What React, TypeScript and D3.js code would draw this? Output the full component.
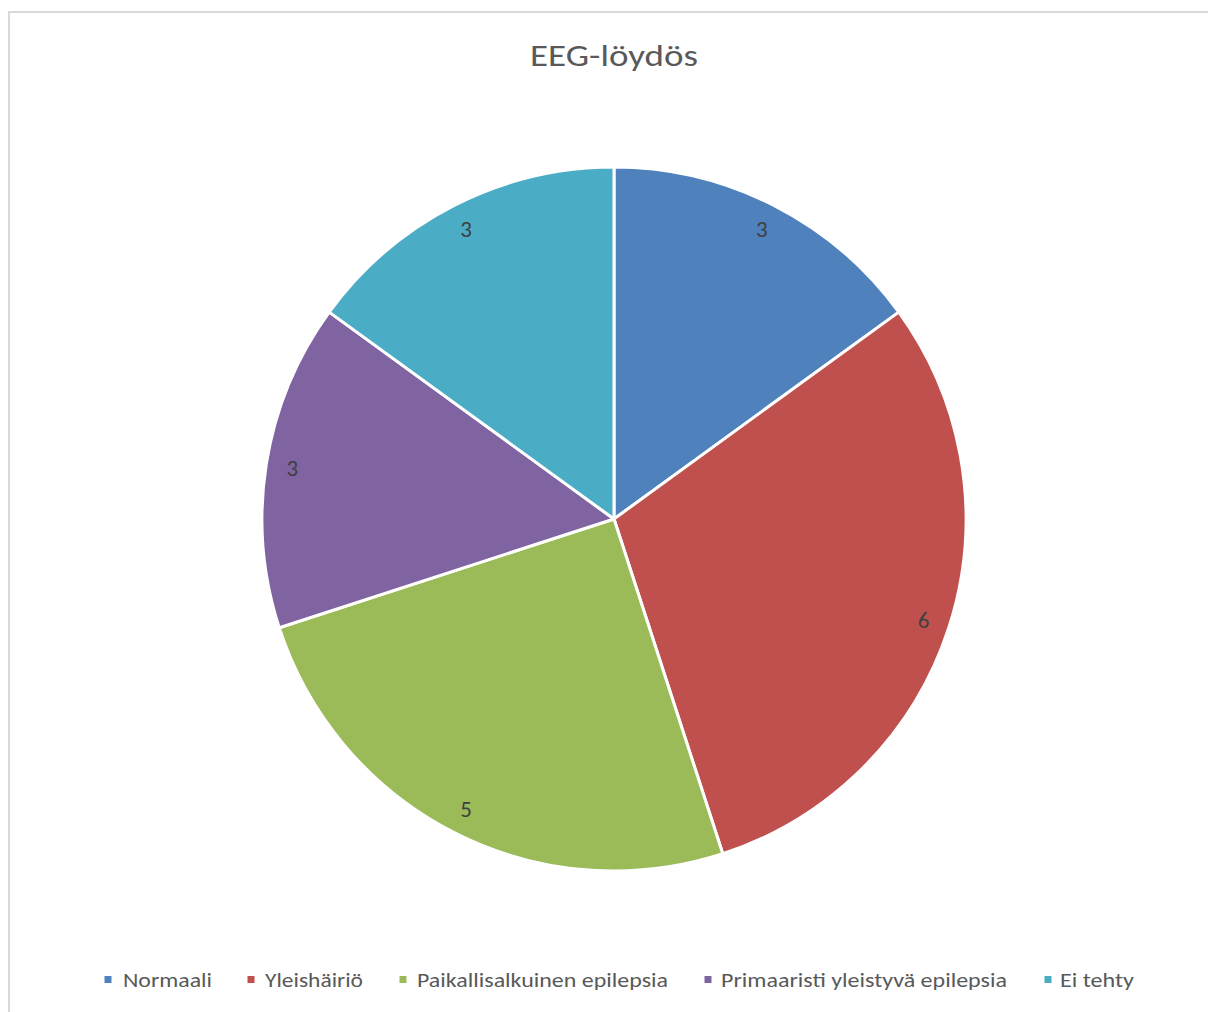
import React from "react";
import * as d3 from "d3";

const categories = ["Normaali", "Yleishäiriö", "Paikallisalkuinen epilepsia", "Primaaristi yleistyvä epilepsia", "Ei tehty"];
const values = [3, 6, 5, 3, 3];
const colors = ["#4F81BD", "#C0504D", "#9BBB59", "#8064A2", "#4BACC6"];
const title = "EEG-löydös";

const W = 1208;
const H = 1012;
const cx = 614;
const cy = 519;
const R = 352;

// legend layout: marker x, text x, text width
const legendLayout = [
  { mx: 108, tx: 123, tw: 89 },
  { mx: 251, tx: 265, tw: 98 },
  { mx: 403, tx: 417, tw: 251 },
  { mx: 708, tx: 721, tw: 286 },
  { mx: 1048, tx: 1060, tw: 74 },
];

export default function App() {
  const pie = d3.pie<number>().sort(null).value((d) => d);
  const arcs = pie(values);
  const arcGen = d3.arc<d3.PieArcDatum<number>>().innerRadius(0).outerRadius(R);
  const labelArc = d3.arc<d3.PieArcDatum<number>>().innerRadius(R * 0.925).outerRadius(R * 0.925);
  const font = "Carlito, Calibri, 'Open Sans', 'Noto Sans', sans-serif";

  return (
    <svg
      width={W}
      height={H}
      style={{ position: "absolute", left: 0, top: 0, background: "#fff" }}
      fontFamily={font}
    >
      <rect x={9} y={12} width={W + 10} height={H + 10} fill="#fff" stroke="#D9D9D9" strokeWidth={2} />
      <text x={cx} y={55} textAnchor="middle" dominantBaseline="central" fontSize={30} fill="#595959" textLength={168} lengthAdjust="spacingAndGlyphs">
        {title}
      </text>
      <g transform={`translate(${cx},${cy})`}>
        {arcs.map((a, i) => (
          <path key={i} d={arcGen(a) || ""} fill={colors[i]} stroke="#fff" strokeWidth={3} strokeLinejoin="round" />
        ))}
        {arcs.map((a, i) => {
          const [x, y] = labelArc.centroid(a);
          return (
            <text key={"l" + i} x={x} y={y} textAnchor="middle" dominantBaseline="central" fontSize={23} fill="#404040">
              {values[i]}
            </text>
          );
        })}
      </g>
      <g>
        {categories.map((c, i) => (
          <g key={c}>
            <rect x={legendLayout[i].mx - 3.5} y={976} width={7} height={7} fill={colors[i]} />
            <text x={legendLayout[i].tx} y={980} dominantBaseline="central" fontSize={20} fill="#595959" textLength={legendLayout[i].tw} lengthAdjust="spacingAndGlyphs">
              {c}
            </text>
          </g>
        ))}
      </g>
    </svg>
  );
}
